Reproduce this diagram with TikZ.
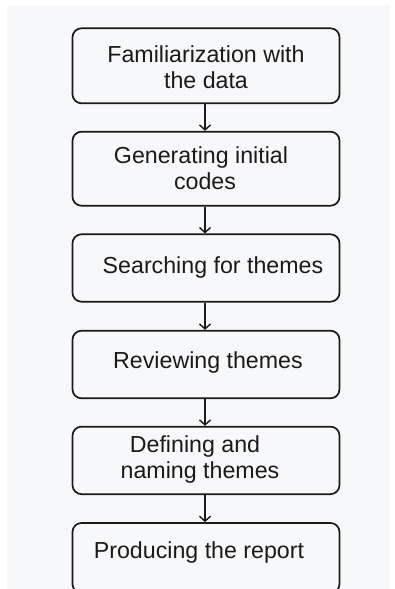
\documentclass[tikz,border=0pt]{standalone}
\usepackage{fontspec}
\setmainfont{Liberation Sans}
\usetikzlibrary{arrows.meta}
\definecolor{bgpanel}{HTML}{F7F8FA}
\definecolor{ink}{HTML}{1A1A1A}
\tikzset{
  stepbox/.style={draw=ink, line width=1.7pt, rounded corners=9pt, fill=bgpanel,
    minimum width=267pt, inner sep=0pt},
  steptext/.style={text=ink, align=center, inner sep=0pt,
    font=\fontsize{23.2}{26.5}\selectfont},
  flow/.style={draw=ink, line width=1.5pt, -{Straight Barb[length=5pt,width=11pt,line width=1.4pt]}}
}
\begin{document}
\begin{tikzpicture}[x=1pt,y=-1pt]
\useasboundingbox (0,0) rectangle (395,589);
\fill[white] (0,0) rectangle (395,589);
\fill[bgpanel] (7,5) rectangle (390,589);
\begin{scope}
\clip (0,0) rectangle (395,589);
\node[stepbox, minimum height=75pt] (b1) at (206,65.8) {};
\node[stepbox, minimum height=74pt] (b2) at (206,168.7) {};
\node[stepbox, minimum height=67.4pt] (b3) at (206,268) {};
\node[stepbox, minimum height=67.6pt] (b4) at (206,364.5) {};
\node[stepbox, minimum height=67.5pt] (b5) at (206,460.4) {};
\node[stepbox, minimum height=70pt] (b6) at (206,558) {};
\end{scope}
\node[steptext] (t1) at (206,67) {Familiarization with\\the data};
\node[steptext] (t2) at (201,168) {Generating initial\\\hspace*{8pt}codes};
\node[steptext] (t3) at (213,267) {Searching for themes};
\node[steptext] (t4) at (208,362) {Reviewing themes};
\node[steptext] (t5) at (200,459.5) {Defining and\hspace*{10pt}\\naming themes};
\node[steptext] (t6) at (199,552) {Producing the report};
\draw[flow] ([xshift=-1pt]b1.south) -- ([xshift=-1pt]b2.north);
\draw[flow] ([xshift=-1pt]b2.south) -- ([xshift=-1pt]b3.north);
\draw[flow] ([xshift=-1pt]b3.south) -- ([xshift=-1pt]b4.north);
\draw[flow] ([xshift=-1pt]b4.south) -- ([xshift=-1pt]b5.north);
\draw[flow] ([xshift=-1pt]b5.south) -- ([xshift=-1pt]b6.north);
\end{tikzpicture}
\end{document}
